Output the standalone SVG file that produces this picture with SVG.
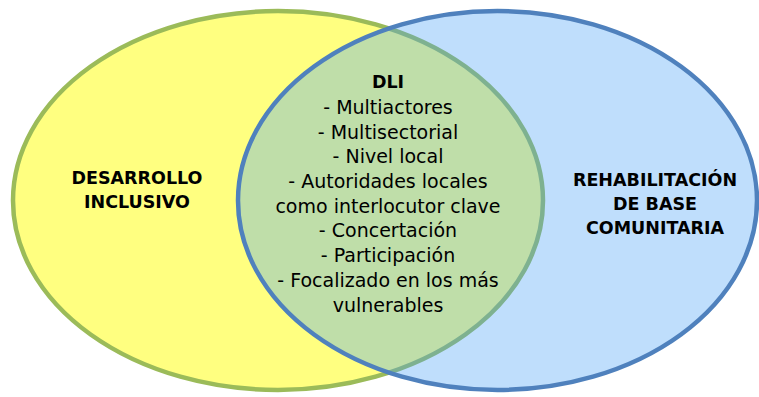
<svg xmlns="http://www.w3.org/2000/svg" width="759" height="397" viewBox="0 0 759 397">
  <style>
    text { font-family: "DejaVu Sans", "Liberation Sans", sans-serif; font-size: 19px; fill: #000000; text-anchor: middle; }
    .b { font-weight: bold; font-size: 17.5px; }
  </style>
  <rect width="759" height="397" fill="#FFFFFF"/>
  <g id="desarrollo-inclusivo">
    <ellipse cx="278" cy="200.5" rx="265" ry="189.5" fill="#FFFF80" stroke="#9BBB59" stroke-width="4.5"/>
    <text class="b" x="137" y="184">DESARROLLO</text>
    <text class="b" x="137" y="208">INCLUSIVO</text>
  </g>
  <g id="rehabilitacion">
    <ellipse cx="497.5" cy="200.5" rx="259.5" ry="189.5" fill="#48A1F6" fill-opacity="0.35" stroke="none"/>
    <ellipse cx="497.5" cy="200.5" rx="259.5" ry="189.5" fill="none" stroke="#4F81BD" stroke-width="4.5"/>
    <text class="b" x="655" y="186">REHABILITACIÓN</text>
    <text class="b" x="655" y="210">DE BASE</text>
    <text class="b" x="655" y="234">COMUNITARIA</text>
  </g>
  <g id="dli">
    <text class="b" x="388" y="88">DLI</text>
    <text x="388" y="114">- Multiactores</text>
    <text x="388" y="138.5">- Multisectorial</text>
    <text x="388" y="163">- Nivel local</text>
    <text x="388" y="188">- Autoridades locales</text>
    <text x="388" y="212.5">como interlocutor clave</text>
    <text x="388" y="237">- Concertación</text>
    <text x="388" y="262">- Participación</text>
    <text x="388" y="287">- Focalizado en los más</text>
    <text x="388" y="312">vulnerables</text>
  </g>
  <g id="connectors"></g>
</svg>
